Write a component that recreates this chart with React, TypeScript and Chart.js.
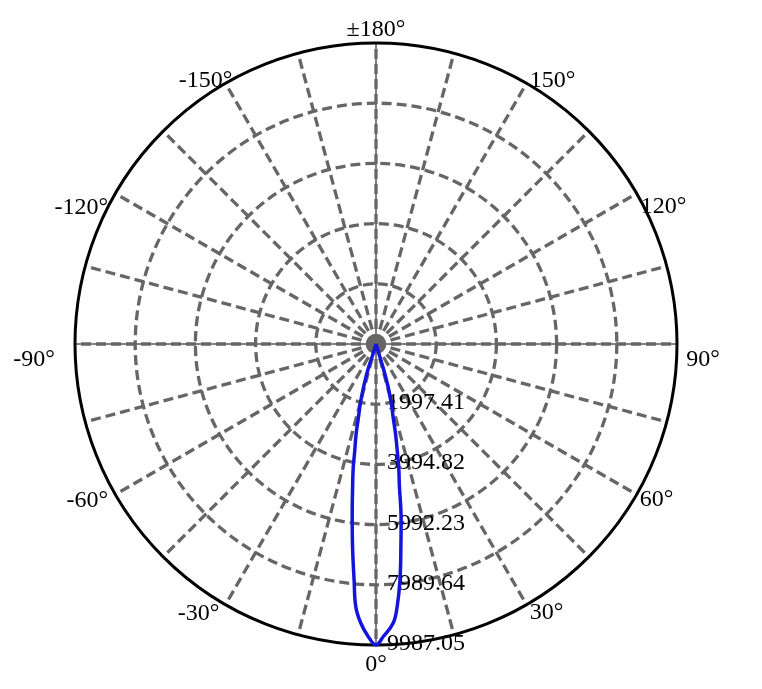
import { useEffect, useRef } from "react";
import { Chart, registerables } from "chart.js";

Chart.register(...registerables);

// radial ring values (the last one is the outer circle)
const ringValues = [1997.41, 3994.82, 5992.23, 7989.64, 9987.05];

// spokes every 15 degrees, labels every 30
const spokeAngles = Array.from({ length: 24 }, (_, i) => i * 15 - 180);
const labelAngles = [180, 150, 120, 90, 60, 30, 0, -30, -60, -90, -120, -150];
const labelTexts = ["±180°", "150°", "120°", "90°", "60°", "30°", "0°", "-30°", "-60°", "-90°", "-120°", "-150°"];

// intensity curve, loop order: centre -> left side -> 0° -> right side -> centre
const curveAngles = [
  -17, -16.7, -17.6, -16.3, -14.9, -13.4, -12.4, -11.2, -10.4, -9.4, -8.0, -6.6, -5.3, -4.4, -3.1, -1.5,
  0,
  1.4, 3.5, 4.6, 5.8, 7.0, 8.4, 9.4, 10.4, 11.2, 12.2, 13.1, 14.6, 15.9, 16.7, 16.7, 17,
];
const curveValues = [
  0, 381, 845, 1418, 1980, 2535, 3092, 3643, 4193, 4742, 5674, 6770, 7864, 8742, 9280, 9715,
  9987.05,
  9715, 9285, 8746, 7871, 6776, 5678, 4742, 4193, 3643, 3089, 2531, 1978, 1415, 843, 381, 0,
];

// page geometry
const W = 762;
const H = 689;
const CX = 376;
const CY = 344;
const R_PX = 301;
const RMAX = ringValues[ringValues.length - 1];
const UNIT = RMAX / R_PX;

const FONT = "24px 'Liberation Serif', 'Times New Roman', serif";
const GRID = "#666666";

// label centre offsets from the spoke end (px)
const labelNudge: Record<number, [number, number]> = {
  180: [0, -15],
  150: [26, -4],
  120: [27, 11],
  90: [26, 14],
  60: [20, 3],
  30: [20, 6],
  0: [0, 18],
  "-30": [-27, 7],
  "-60": [-28, 4],
  "-90": [-41, 14],
  "-120": [-34, 12],
  "-150": [-20, -4],
} as any;

const toXY = (deg: number, v: number) => {
  const a = (deg * Math.PI) / 180;
  return { x: v * Math.sin(a), y: -v * Math.cos(a) };
};

const polarGrid = {
  id: "polarGrid",
  beforeDatasetsDraw(chart: any) {
    const { ctx, scales } = chart;
    const xs = scales.x;
    const ys = scales.y;
    const cx = xs.getPixelForValue(0);
    const cy = ys.getPixelForValue(0);
    const rad = (v: number) => xs.getPixelForValue(v) - cx;
    const R = rad(RMAX);

    ctx.save();

    // black axis lines under the grey dashes
    ctx.strokeStyle = "#000";
    ctx.lineWidth = 1;
    ctx.setLineDash([]);
    ctx.beginPath();
    ctx.moveTo(cx - R, cy);
    ctx.lineTo(cx + R, cy);
    ctx.moveTo(cx, cy - R);
    ctx.lineTo(cx, cy + R);
    ctx.stroke();

    // dashed rings
    ctx.strokeStyle = GRID;
    ctx.lineWidth = 3.3;
    ctx.setLineDash([10, 5]);
    ringValues.slice(0, -1).forEach((v) => {
      ctx.beginPath();
      ctx.arc(cx, cy, rad(v), 0, Math.PI * 2);
      ctx.stroke();
    });

    // dashed spokes
    spokeAngles.forEach((deg) => {
      const p = toXY(deg, RMAX);
      ctx.beginPath();
      ctx.moveTo(cx, cy);
      ctx.lineTo(xs.getPixelForValue(p.x), ys.getPixelForValue(p.y));
      ctx.stroke();
    });

    // centre blob
    ctx.setLineDash([]);
    ctx.fillStyle = GRID;
    ctx.beginPath();
    ctx.arc(cx, cy, 10, 0, Math.PI * 2);
    ctx.fill();

    // outer circle
    ctx.strokeStyle = "#000";
    ctx.lineWidth = 3;
    ctx.beginPath();
    ctx.arc(cx, cy, R, 0, Math.PI * 2);
    ctx.stroke();

    // ring labels along the 0° direction
    ctx.font = FONT;
    ctx.fillStyle = "#000";
    ctx.textAlign = "left";
    ctx.textBaseline = "alphabetic";
    ringValues.forEach((v) => {
      ctx.fillText(v.toFixed(2), cx + 11, cy + rad(v) - 3 + 8);
    });

    // angle labels
    ctx.textAlign = "center";
    labelAngles.forEach((deg, i) => {
      const p = toXY(deg, RMAX);
      const [dx, dy] = labelNudge[deg];
      ctx.fillText(labelTexts[i], xs.getPixelForValue(p.x) + dx, ys.getPixelForValue(p.y) + dy + 8);
    });

    ctx.restore();
  },
};

export default function App() {
  const canvasRef = useRef<HTMLCanvasElement>(null);

  useEffect(() => {
    const ctx = canvasRef.current?.getContext("2d");
    if (!ctx) return;

    const points = curveAngles.map((deg, i) => toXY(deg, curveValues[i]));

    const chart = new Chart(ctx, {
      type: "scatter",
      data: {
        datasets: [
          {
            label: "intensity",
            data: points,
            showLine: true,
            borderColor: "rgb(20, 20, 220)",
            borderWidth: 3.5,
            pointRadius: 0,
            tension: 0.4,
            fill: false,
          },
        ],
      },
      options: {
        animation: false,
        responsive: true,
        maintainAspectRatio: false,
        layout: { padding: 0 },
        plugins: {
          legend: { display: false },
          tooltip: { enabled: false },
        },
        scales: {
          x: { type: "linear", display: false, min: -CX * UNIT, max: (W - CX) * UNIT },
          y: { type: "linear", display: false, min: -(H - CY) * UNIT, max: CY * UNIT },
        },
      },
      plugins: [polarGrid],
    });

    return () => chart.destroy();
  }, []);

  return (
    <div style={{ position: "fixed", left: 0, top: 0, width: W, height: H, background: "#fff" }}>
      <canvas ref={canvasRef} />
    </div>
  );
}
